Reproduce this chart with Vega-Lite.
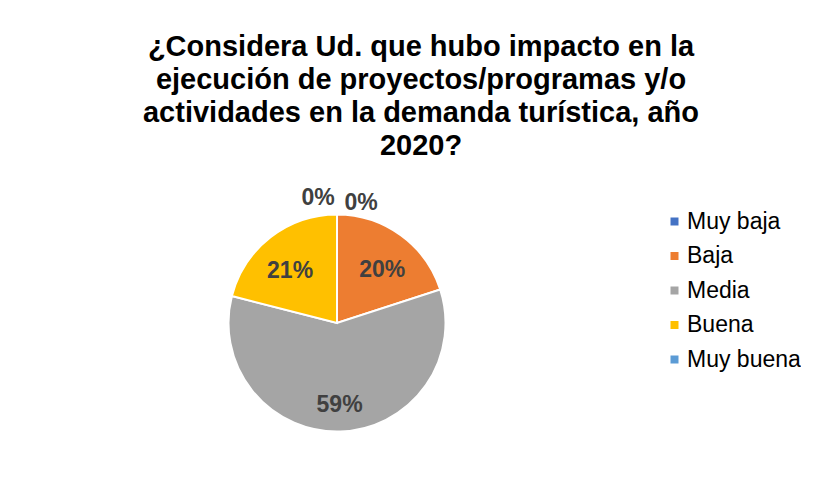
{
  "$schema": "https://vega.github.io/schema/vega-lite/v6.json",
  "width": 674,
  "height": 300,
  "padding": {"left": 0, "top": 33, "right": 0, "bottom": 0},
  "background": "white",
  "title": {
    "text": ["¿Considera Ud. que hubo impacto en la", "ejecución de proyectos/programas y/o", "actividades en la demanda turística, año", "2020?"],
    "font": "Liberation Sans",
    "fontSize": 29,
    "fontWeight": "bold",
    "color": "#000000",
    "lineHeight": 33,
    "anchor": "middle",
    "dx": 84,
    "offset": 12
  },
  "data": {
    "values": [
      {"cat": "Muy baja", "v": 0, "label": "0%", "idx": 1},
      {"cat": "Baja", "v": 20, "label": "20%", "idx": 2},
      {"cat": "Media", "v": 59, "label": "59%", "idx": 3},
      {"cat": "Buena", "v": 21, "label": "21%", "idx": 4},
      {"cat": "Muy buena", "v": 0, "label": "0%", "idx": 5}
    ]
  },
  "encoding": {
    "theta": {"field": "v", "type": "quantitative", "stack": true},
    "order": {"field": "idx", "type": "quantitative"}
  },
  "layer": [
    {
      "mark": {"type": "arc", "outerRadius": 108.5, "stroke": "white", "strokeWidth": 2},
      "encoding": {
        "color": {
          "field": "cat",
          "type": "nominal",
          "sort": ["Muy baja", "Baja", "Media", "Buena", "Muy buena"],
          "scale": {
            "domain": ["Muy baja", "Baja", "Media", "Buena", "Muy buena"],
            "range": ["#4472C4", "#ED7D31", "#A5A5A5", "#FFC000", "#5B9BD5"]
          },
          "legend": {
            "title": null,
            "orient": "none",
            "legendX": 663,
            "legendY": 37,
            "symbolType": "square",
            "symbolSize": 64,
            "symbolStrokeWidth": 0,
            "labelFont": "Liberation Sans",
            "labelFontSize": 23,
            "labelColor": "#000000",
            "labelOffset": 1,
            "rowPadding": 10.5,
            "padding": 0
          }
        }
      }
    },
    {
      "mark": {"type": "text", "radius": 70, "dx": 4, "dy": 4, "font": "Liberation Sans", "fontSize": 23, "fontWeight": "bold", "color": "#404040"},
      "encoding": {
        "text": {"condition": {"test": "datum.cat === 'Baja'", "field": "label"}, "value": ""}
      }
    },
    {
      "mark": {"type": "text", "radius": 70, "dx": -4, "dy": 3, "font": "Liberation Sans", "fontSize": 23, "fontWeight": "bold", "color": "#404040"},
      "encoding": {
        "text": {"condition": {"test": "datum.cat === 'Buena'", "field": "label"}, "value": ""}
      }
    },
    {
      "mark": {"type": "text", "radius": 82, "font": "Liberation Sans", "fontSize": 23, "fontWeight": "bold", "color": "#404040"},
      "encoding": {
        "text": {"condition": {"test": "datum.cat === 'Media'", "field": "label"}, "value": ""}
      }
    },
    {
      "mark": {"type": "text", "radius": 122, "dx": 24, "dy": 2, "font": "Liberation Sans", "fontSize": 23, "fontWeight": "bold", "color": "#404040"},
      "encoding": {
        "text": {"condition": {"test": "datum.cat === 'Muy baja'", "field": "label"}, "value": ""}
      }
    },
    {
      "mark": {"type": "text", "radius": 122, "dx": -19, "dy": -3, "font": "Liberation Sans", "fontSize": 23, "fontWeight": "bold", "color": "#404040"},
      "encoding": {
        "text": {"condition": {"test": "datum.cat === 'Muy buena'", "field": "label"}, "value": ""}
      }
    }
  ],
  "config": {"view": {"stroke": null}}
}
